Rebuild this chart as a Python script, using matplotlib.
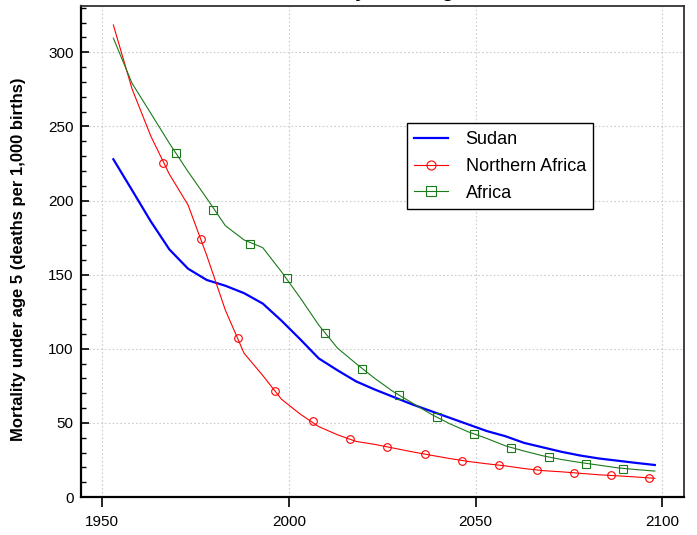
import numpy as np
import matplotlib
matplotlib.use('Agg')
from matplotlib import pyplot as plt
from matplotlib.ticker import MultipleLocator

plt.rcParams['font.family'] = ['Liberation Sans', 'DejaVu Sans']

years = [1953, 1958, 1963, 1968, 1973, 1978, 1983, 1988, 1993, 1998,
         2003, 2008, 2013, 2018, 2023, 2028, 2033, 2038, 2043, 2048,
         2053, 2058, 2063, 2068, 2073, 2078, 2083, 2088, 2093, 2098]

sudan = [227.8, 207, 186, 167, 154, 146.4, 142.5, 137.5, 130.5, 119,
         106.5, 93.5, 85.5, 78, 72.5, 67.5, 62.5, 58, 53.5, 49,
         44.5, 41, 36.5, 33.5, 30.5, 28, 26, 24.5, 23, 21.6]
northern_africa = [318.4, 275.3, 243.6, 217.7, 197, 163, 126, 97, 82, 66,
                   56, 47.5, 42, 37.5, 35.5, 33, 30.5, 28.2, 26, 24,
                   22.4, 21, 19.2, 17.8, 17, 16, 15, 14.3, 13.5, 12.6]
africa = [309.5, 279.1, 258.9, 238.6, 219.5, 201.5, 183, 173.4, 168.2, 152,
          134.5, 116, 100.5, 90, 80, 71, 63.5, 56, 49.5, 44,
          39.5, 34.5, 31, 27.8, 25.3, 23.3, 21.5, 19.7, 18.5, 17.5]

# marker symbols sit along the lines
na_marker_years = [1966.4, 1976.4, 1986.4, 1996.4, 2006.4, 2016.4, 2026.4,
                   2036.4, 2046.4, 2056.4, 2066.4, 2076.4, 2086.4, 2096.4]
na_marker_vals = [225.1, 174.1, 107.1, 71.7, 51, 38.9, 33.7,
                  28.8, 24.3, 21.4, 18.2, 16.4, 14.6, 13]
af_marker_years = [1969.7, 1979.6, 1989.6, 1999.6, 2009.7, 2019.6, 2029.6,
                   2039.6, 2049.6, 2059.6, 2069.6, 2079.6, 2089.6]
af_marker_vals = [232.3, 193.9, 170.5, 147.5, 110.9, 86.6, 68.8,
                  53.8, 42.3, 33.3, 26.8, 22.5, 19.1]

title = 'Mortality under age 5'
ylabel = 'Mortality under age 5 (deaths per 1,000 births)'

fig = plt.figure(figsize=(6.97, 5.35), dpi=100)
ax = fig.add_axes([0.1155, 0.071, 0.8663, 0.9178])

ax.plot(years, sudan, color='blue', lw=1.6, zorder=3)
ax.plot(years, northern_africa, color='red', lw=0.8, zorder=3)
ax.plot(years, africa, color='#1a7a1a', lw=0.8, zorder=3)
ax.plot(na_marker_years, na_marker_vals, ls='none', marker='o', ms=5.5,
        mfc='none', mec='red', mew=0.8, zorder=4)
ax.plot(af_marker_years, af_marker_vals, ls='none', marker='s', ms=5.5,
        mfc='none', mec='#1a7a1a', mew=0.8, zorder=4)

# legend proxies
h1, = ax.plot([], [], color='blue', lw=1.6, label='Sudan')
h2, = ax.plot([], [], color='red', lw=0.8, marker='o', ms=6.5, mfc='none',
              mew=0.8, label='Northern Africa')
h3, = ax.plot([], [], color='#1a7a1a', lw=0.8, marker='s', ms=6.5,
              mfc='none', mew=0.8, label='Africa')
leg = ax.legend(handles=[h1, h2, h3], loc='upper left',
                bbox_to_anchor=(0.540, 0.761), borderaxespad=0, fontsize=13,
                fancybox=False, framealpha=1, edgecolor='black',
                borderpad=0.42, handlelength=1.85, handletextpad=1.0,
                labelspacing=0.55)
leg.get_frame().set_linewidth(1.0)

ax.set_xlim(1944.2, 2105.9)
ax.set_ylim(0, 331.2)
ax.xaxis.set_major_locator(MultipleLocator(50))
ax.yaxis.set_major_locator(MultipleLocator(50))
ax.yaxis.set_minor_locator(MultipleLocator(10))
ax.tick_params(axis='y', which='major', direction='in', length=6, width=1.2,
               labelsize=11, pad=5)
ax.tick_params(axis='y', which='minor', direction='in', length=3.5, width=1)
ax.tick_params(axis='x', which='major', direction='out', length=7, width=1.2,
               labelsize=11, pad=6)
ax.grid(True, which='major', color='#cccccc', ls=(0, (1.5, 2)), lw=0.8)
ax.set_axisbelow(True)

for side in ['left', 'bottom']:
    ax.spines[side].set_linewidth(1.6)
    ax.spines[side].set_color('black')
for side in ['top', 'right']:
    ax.spines[side].set_linewidth(1.3)
    ax.spines[side].set_color('#333333')

ax.set_ylabel(ylabel, fontsize=12, fontweight='bold')
ax.yaxis.set_label_coords(-0.0903, 0.485)
fig.text(0.5488, 1.006, title, ha='center', va='baseline', fontsize=14,
         fontweight='bold')

fig.savefig('out.png', dpi=100)
